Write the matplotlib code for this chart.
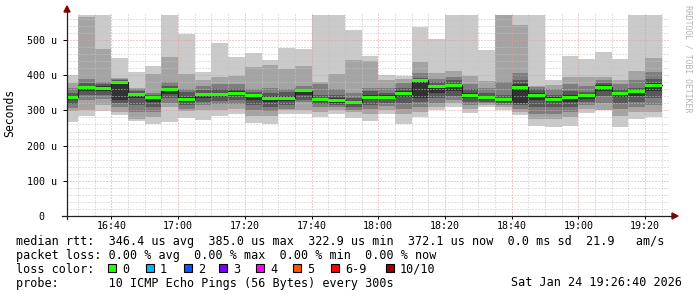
import numpy as np
import matplotlib
matplotlib.use("Agg")
import matplotlib.pyplot as plt
from matplotlib.patches import Rectangle, Polygon
from matplotlib.lines import Line2D
from matplotlib.transforms import IdentityTransform

# 5 minute bins, end time in minutes after 16:00 (16:30 .. 19:25)
bin_end = list(range(30, 206, 5))

# 10 sorted ping rtts per bin, microseconds
pings = [
    [267, 297, 308, 318, 330, 340, 350, 365, 378, 401],  # 16:30
    [285, 302, 330, 345, 355, 370, 378, 390, 565, 590],
    [299, 316, 332, 345, 355, 368, 374, 380, 475, 580],  # 16:40
    [288, 296, 310, 322, 330, 382, 385, 388, 392, 449],
    [269, 275, 295, 315, 335, 350, 355, 360, 364, 409],
    [261, 280, 295, 310, 325, 340, 345, 350, 402, 425],
    [267, 310, 320, 335, 348, 362, 368, 381, 452, 580],  # 17:00
    [278, 297, 305, 315, 325, 338, 352, 362, 402, 517],
    [274, 300, 315, 325, 335, 350, 357, 370, 387, 409],
    [285, 300, 318, 328, 338, 350, 360, 375, 395, 492],
    [290, 305, 318, 330, 340, 355, 362, 375, 397, 451],  # 17:20
    [264, 285, 300, 315, 330, 345, 352, 360, 422, 463],
    [261, 285, 298, 310, 325, 340, 350, 364, 428, 442],
    [290, 300, 305, 315, 328, 342, 352, 360, 419, 477],
    [290, 300, 325, 330, 345, 358, 362, 370, 425, 475],  # 17:40
    [281, 295, 310, 318, 325, 336, 345, 375, 381, 580],
    [290, 300, 310, 315, 320, 335, 345, 360, 402, 580],
    [278, 295, 300, 310, 318, 328, 335, 350, 444, 527],
    [271, 290, 305, 315, 330, 345, 355, 365, 439, 454],  # 18:00
    [290, 300, 312, 322, 332, 343, 350, 365, 386, 400],
    [261, 290, 305, 320, 338, 355, 365, 377, 390, 398],
    [282, 295, 310, 325, 335, 387, 392, 405, 438, 538],
    [301, 310, 320, 335, 350, 372, 380, 390, 405, 503],  # 18:20
    [310, 320, 330, 340, 355, 375, 385, 395, 412, 580],
    [293, 305, 315, 325, 335, 350, 360, 375, 398, 580],
    [309, 315, 320, 325, 330, 342, 350, 365, 384, 473],
    [301, 310, 315, 320, 325, 335, 345, 380, 580, 590],  # 18:40
    [287, 295, 305, 315, 320, 375, 385, 405, 543, 580],
    [256, 275, 290, 310, 330, 350, 360, 366, 369, 580],
    [254, 275, 290, 310, 325, 338, 345, 360, 372, 386],
    [257, 280, 295, 310, 325, 345, 355, 375, 394, 455],  # 19:00
    [293, 305, 315, 325, 333, 345, 352, 370, 394, 445],
    [301, 302, 320, 340, 355, 372, 378, 385, 395, 467],
    [254, 285, 305, 320, 338, 352, 360, 375, 385, 445],
    [275, 295, 310, 325, 340, 355, 365, 385, 413, 580],  # 19:20
    [280, 295, 315, 335, 355, 378, 390, 410, 448, 580],
]

median = [337, 365, 362, 380, 345, 336, 359, 331, 345, 344, 348, 342,
          334, 335, 356, 330, 328, 323, 338, 338, 348, 385, 368, 371,
          343, 336, 330, 366, 342, 332, 336, 341, 366, 347, 353, 372]

tick_min = [40, 60, 80, 100, 120, 140, 160, 180, 200]
tick_lbl = ["16:40", "17:00", "17:20", "17:40", "18:00", "18:20", "18:40", "19:00", "19:20"]
y_ticks = [0, 100, 200, 300, 400, 500]
y_lbl = ["0  ", "100 u", "200 u", "300 u", "400 u", "500 u"]

legend_lbl = ["0", "1", "2", "3", "4", "5", "6-9", "10/10"]
legend_col = ["#26ff00", "#00b8ff", "#0059ff", "#7e00ff", "#ff00ff", "#ff5500", "#ff0000", "#a10000"]
legend_x = [108, 146, 184, 219, 256, 293, 331, 386]

line1 = "median rtt:  346.4 us avg  385.0 us max  322.9 us min  372.1 us now  0.0 ms sd  21.9   am/s"
line2 = "packet loss: 0.00 % avg  0.00 % max  0.00 % min  0.00 % now"
line4a = "probe:       10 ICMP Echo Pings (56 Bytes) every 300s"
line4b = "Sat Jan 24 19:26:40 2026"

plt.rcParams['font.family'] = ['DejaVu Sans Mono']

W, H = 697, 297
fig = plt.figure(figsize=(W / 100, H / 100), dpi=100)
fig.patch.set_facecolor("white")
ax = fig.add_axes([67 / W, 81 / H, 603 / W, 203 / H])
ymax = 203 / 0.352
ax.set_xlim(26.67, 207.5)
ax.set_ylim(0, ymax)

p = np.minimum(np.array(pings, dtype=float), 571)
left = np.array(bin_end) - 5
smoke = ["#cacaca", "#a4a4a4", "#7e7e7e", "#585858", "#323232"]
for i, c in enumerate(smoke):
    lo = p[:, i]
    hi = p[:, 9 - i]
    ax.bar(left, hi - lo, width=5, bottom=lo, align='edge', color=c, linewidth=0, zorder=1 + i * 0.1)

# grid on top of the smoke
for yv in np.arange(20, ymax, 20):
    col = "#e29a9a" if yv % 100 == 0 else "#c4c4c4"
    ax.axhline(yv, color=col, lw=0.72, ls=(0, (1, 2)), zorder=3)
for xv in np.arange(30, 207, 5):
    col = "#e29a9a" if xv % 20 == 0 else "#c4c4c4"
    ax.axvline(xv, color=col, lw=0.72, ls=(0, (1, 2)), zorder=3)

# median band
med = np.array(median, dtype=float)
edges = np.append(left, bin_end[-1])
ax.step(edges, np.append(med, med[-1]), where='post', color="#202020", lw=0.8, zorder=3.5)
d = 4.3
ax.bar(left, 2 * d, width=5, bottom=med - d, align='edge', color="#26ff00", linewidth=0, zorder=4)

for s in ax.spines.values():
    s.set_visible(False)
ax.set_xticks(tick_min)
ax.set_xticklabels(tick_lbl)
ax.set_yticks(y_ticks)
ax.set_yticklabels(y_lbl)
ax.tick_params(axis='x', length=2.2, width=0.7, pad=1.2, labelsize=7.2, colors="#000000")
ax.tick_params(axis='y', length=2.9, width=0.7, pad=4.0, labelsize=7.2, colors="#000000")
ax.set_facecolor("white")

pix = IdentityTransform()


def Y(y):
    return H - y


# axis lines and arrows
fig.add_artist(Line2D([62, 673], [Y(216), Y(216)], color="#202020", lw=0.9, transform=pix))
fig.add_artist(Line2D([67, 67], [Y(219), Y(10)], color="#202020", lw=0.9, transform=pix))
fig.add_artist(Polygon([[64, Y(12)], [70, Y(12)], [67, Y(6)]], closed=True, color="#8b0000", transform=pix))
fig.add_artist(Polygon([[672, Y(213)], [672, Y(219)], [678, Y(216)]], closed=True, color="#8b0000", transform=pix))

fig.text(10 / W, 1 - 113 / H, "Seconds", rotation=90, ha='center', va='center', fontsize=8.3)
fig.text(688 / W, 1 - 59 / H, "RRDTOOL / TOBI OETIKER", rotation=270, ha='center', va='center',
         fontsize=5.9, color="#b4b4b4")

fs = 8.5
fig.text(16 / W, 1 - 241.5 / H, line1, ha='left', va='center', fontsize=fs)
fig.text(16 / W, 1 - 255.5 / H, line2, ha='left', va='center', fontsize=fs)
fig.text(16 / W, 1 - 269.3 / H, "loss color:", ha='left', va='center', fontsize=fs)
for lx, lb, lc in zip(legend_x, legend_lbl, legend_col):
    fig.add_artist(Rectangle((lx, Y(272.3)), 7.5, 8, facecolor=lc, edgecolor="black", lw=0.8, transform=pix))
    fig.text((lx + 14) / W, 1 - 269.3 / H, lb, ha='left', va='center', fontsize=fs)
fig.text(16 / W, 1 - 283 / H, line4a, ha='left', va='center', fontsize=fs)
fig.text(682 / W, 1 - 283 / H, line4b, ha='right', va='center', fontsize=fs)

fig.savefig("out.png", dpi=100)
